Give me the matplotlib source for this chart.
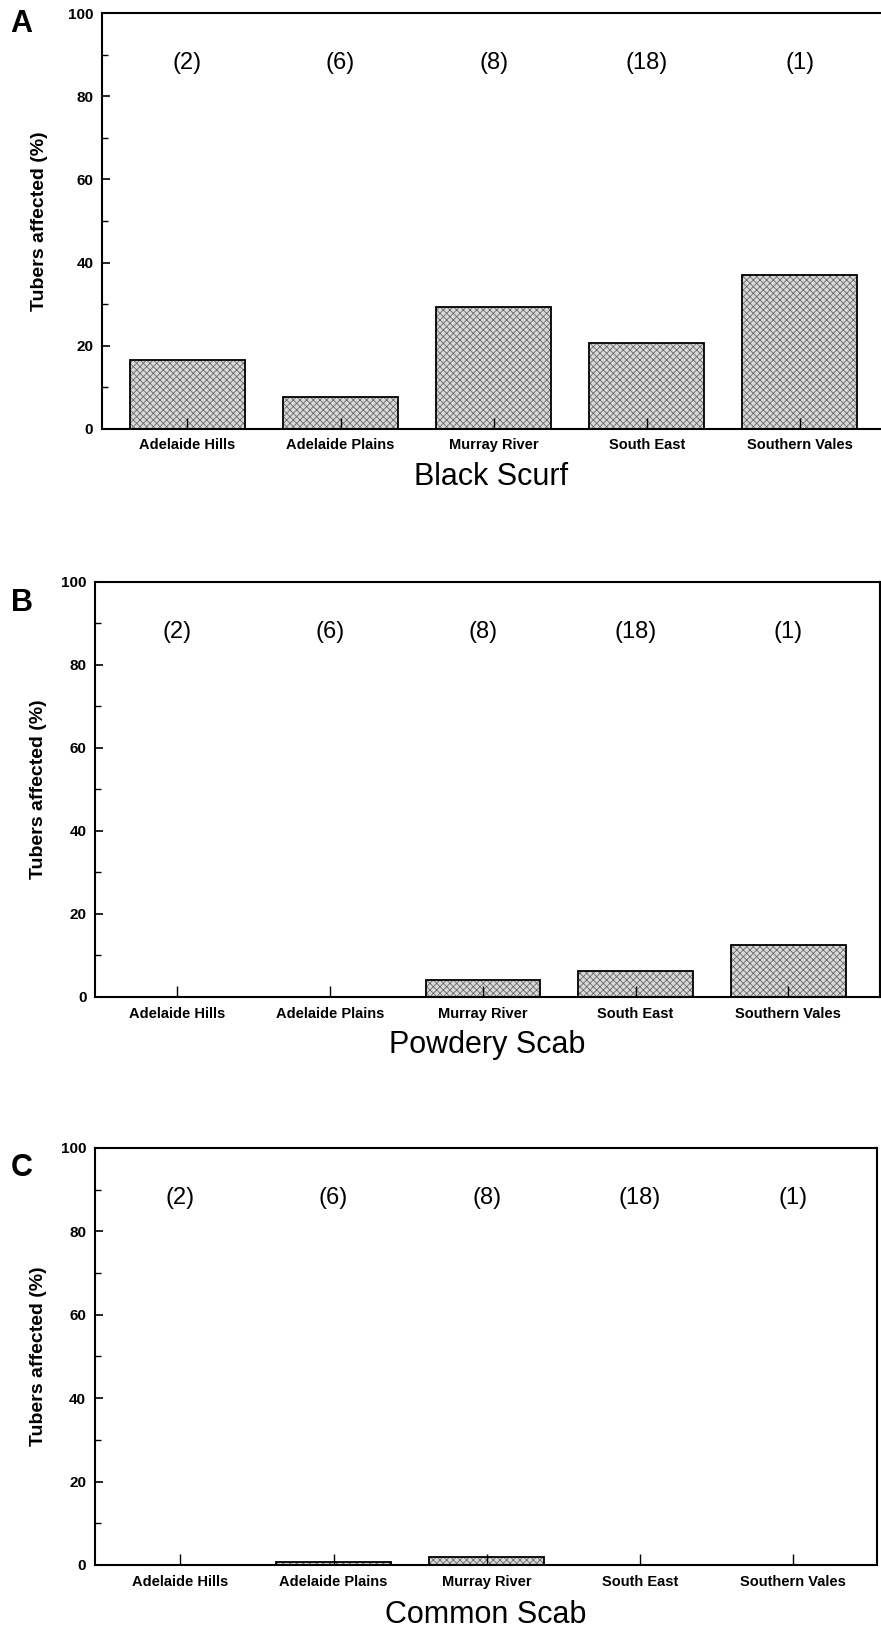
import matplotlib
matplotlib.use('Agg')
import matplotlib.pyplot as plt

plt.rcParams['font.family'] = ['Liberation Sans', 'DejaVu Sans']
plt.rcParams['hatch.linewidth'] = 0.6

# ── Data ──────────────────────────────────────────────────────────────────────
regions = ['Adelaide Hills', 'Adelaide Plains', 'Murray River', 'South East', 'Southern Vales']
n_crops = [2, 6, 8, 18, 1]
black_scurf = [16.6, 7.6, 29.2, 20.6, 37.0]
powdery_scab = [0, 0, 4.2, 6.3, 12.5]
common_scab = [0, 0.8, 1.8, 0, 0]

diseases = ['Black Scurf', 'Powdery Scab', 'Common Scab']
panel_letters = ['A', 'B', 'C']
series = [black_scurf, powdery_scab, common_scab]

# axes rectangles (fig fractions), x-limits and label spacing per panel
rects = [[0.1154, 0.7368, 0.8846, 0.2551],
         [0.1078, 0.3880, 0.8910, 0.2548],
         [0.1073, 0.0393, 0.8887, 0.2560]]
xlims = [(-0.56, 4.53), (-0.54, 4.60), (-0.56, 4.55)]
letter_y = [0.985, 0.630, 0.283]
ylab_pad = [14, 10, 10]
xlab_pad = [7, 7, 8]

fig = plt.figure(figsize=(8.81, 16.29), dpi=100)

for k in range(3):
    ax = fig.add_axes(rects[k])
    x = range(len(regions))
    # hatched grey fill, then black outline on top
    ax.bar(x, series[k], width=0.75, color='#d9d9d9', edgecolor='#6a6a6a',
           linewidth=0, hatch='xxxxx')
    ax.bar(x, series[k], width=0.75, fill=False, edgecolor='black', linewidth=1.3)
    for i, n in enumerate(n_crops):
        ax.text(i, 88, f'({n})', ha='center', va='center', fontsize=17)
    ax.set_xlim(*xlims[k])
    ax.set_ylim(0, 100)
    ax.set_yticks(range(0, 101, 20))
    ax.set_yticks(range(10, 100, 20), minor=True)
    ax.set_xticks(list(x))
    ax.set_xticklabels(regions, fontsize=10.5, fontweight='bold')
    for lab in ax.get_yticklabels():
        lab.set_fontweight('bold')
        lab.set_fontsize(11)
    ax.tick_params(axis='y', which='major', direction='in', length=6, width=1.2, pad=6)
    ax.tick_params(axis='y', which='minor', direction='in', length=4, width=1.0)
    ax.tick_params(axis='x', which='major', direction='in', length=8, width=1.0, pad=7)
    for s in ax.spines.values():
        s.set_linewidth(1.5)
    if k == 0:
        ax.spines['right'].set_visible(False)
    ax.set_ylabel('Tubers affected (%)', fontsize=14, fontweight='bold', labelpad=ylab_pad[k])
    ax.set_xlabel(diseases[k], fontsize=22, labelpad=xlab_pad[k])
    fig.text(0.012, letter_y[k], panel_letters[k], fontsize=22, fontweight='bold',
             ha='left', va='center')

fig.savefig('out.png', dpi=100)
